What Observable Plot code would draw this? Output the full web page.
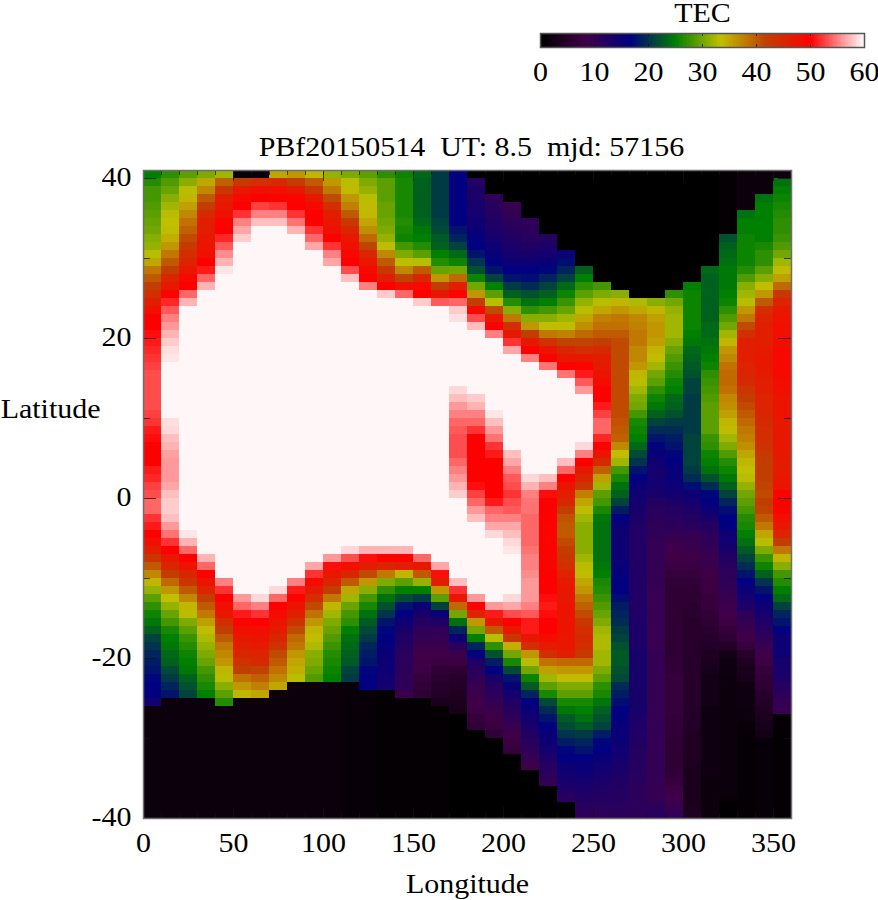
<!DOCTYPE html>
<html><head><meta charset="utf-8">
<script src="https://cdn.jsdelivr.net/npm/d3@7"></script>
<script src="https://cdn.jsdelivr.net/npm/@observablehq/plot@0.6"></script>
<style>
html,body{margin:0;background:#fff;width:878px;height:900px;overflow:hidden}
#map,#bar{position:absolute;left:0;top:0}
svg{background:transparent!important}
</style></head><body><div id="map"></div><div id="bar"></div>
<script>
// TEC, one list per longitude column (10 deg wide), north to south.
// [value, n] means n consecutive rows with that value.
const lon000=[25,26.5,28,28,28.5,29,29.5,30,31,31.5,33,35,38,40,42,44,46,48,50,50,50.5,51,51.5,52,52.5,53,53,53,53,53,52.5,52,51,50.5,50,50,50,51,51.5,52.5,53,54,54,52,51,50,48,46,43,40,37,34,31.5,29,27,25.5,24.5,23,21,20,19,18.5,18,17,16.7,16.7,14,[1.5,14]];
const lon010=[27,28.5,29.5,31,32,33,33.3,33.5,34.5,36,38,40,42,45,47,49.5,51.5,53.5,55,56,57,58,58.7,59,[59.7,7],58.7,58.5,57.5,57,56.3,56,56,56,56.5,57.5,58,58,57.5,56,54.5,52,50,47,45,42,39,36,33.3,31.5,29.5,28,26,25,24.5,23.5,23,21.5,20.5,19,18,[1.5,15]];
const lon020=[29,31,33,34,35.5,37,38.5,39.5,41,42.5,44,45.5,47,49,50,54,57,[59.7,28],59,57,54,50,47.5,45,43,40,37,34,33,30.5,29,27.5,26.5,25.5,25,24.5,23,22,21,[1.5,15]];
const lon030=[30.5,35,37,40,42,44.5,46,46,47,47.5,48,50,51,54,57,[59.7,33],57,54,50,47.5,45.5,42,40,38,35.5,33.5,32.5,31.5,30.5,29.5,28,27,26,25,[1.5,15]];
const lon040=[32,39.5,43,46,47,48,49.5,50,51.5,53.5,55.5,57,59,[59.7,38],55,52,50,48,47,44,42,40,38,37,36,34,33,31,29,26.5,[1.5,14]];
const lon050=[1,42.5,47,49,50,52,55,56.5,58,[59.7,44],56,54,51,49.5,48,47,46,45,43.5,42,38.5,36,34,[1.5,15]];
const lon060=[1,44,48,50,52.5,55,57.5,[59.7,46],58.5,55,52,50,48,47.5,46.5,45.5,44.5,41.5,39.5,37.5,35,[1.5,15]];
const lon070=[35,44.5,48,49.5,52,55,57.5,[59.7,45],58.5,54,50,48.5,47.5,46.5,45,43.5,41,40,38.5,37,35,[1.5,16]];
const lon080=[36,42,47,49.5,50,52,54.5,57,[59.7,43],55,51,49.5,47.5,46,43.5,41,39,38,36,35,34.5,33,[1.5,17]];
const lon090=[34,40,43,47,49,50,50,52,54,56.5,[59.7,39],56.5,52,49,46.5,44,41,38.5,36,34,33.5,32.5,31,30.5,29.5,28.5,[1.5,17]];
const lon100=[31.5,36,38,41,44,46,47,48,50,52,55,56.5,[59.7,36],56,50.5,47,45,42,38,34,32,30.5,29.5,28.5,27.5,26.5,26,25.5,25,[1.5,17]];
const lon110=[30.5,33,33.8,36,37.5,40,42.5,45,47,48,49,50,53,57.5,[59.7,33],58.5,53,48,45,40,35,32,29.5,28,27,25,24,23.5,23,22.5,21,20.5,[1,17]];
const lon120=[29,30.5,31.5,33,33.7,33.8,35,36.5,39,41.5,45,47,49,50,55,[59.7,32],57,50.5,46,41,36,31,28,26,24,22.5,21.5,20.5,19,18.5,18,17,16.7,16.7,[1,16]];
const lon130=[27,29,29,29,29.5,29.5,30,30.5,31.5,33.5,37,40,43,46,50,58,[59.7,31],57,50,45,38,30.5,27,24,22,20,18,17,16.5,16,15.5,15,15,14.5,14,[0.5,16]];
const lon140=[25.5,26,26,26,26,26,26.5,26,25.5,28,30.5,33.5,37,41.5,48,54,[59.7,31],57,50,46,34,29,25,21.5,18,16.7,15,13.5,12.5,12,11.5,11,11,10.5,10.5,9,[0.5,15]];
const lon150=[23.5,23,23,23,23,23,23.5,24.5,25,26.5,29,33,40,45,49,50,58,[59.7,31],54,47,40,31.5,25,20.5,15.5,13.5,12,10.5,10,9,8.5,8,7.5,7,6.5,6,[0.5,15]];
const lon160=[20.5,20.5,20.5,20.5,20.5,20.5,21,21.5,22.5,23,25,26.5,29.5,36,42,47,53.5,[59.7,32],56.5,50.5,46,36,29,21,15,12.5,10.5,10,9,8.5,7.5,6,5.5,5,4.5,3.5,[0.5,14]];
const lon170=[[16.7,7],18,19,21,23.5,25.5,30,39,46,49.5,54,58,58.8,[59.7,8],58.5,57.5,56,55,54,53.5,53,53,53,54,55,56,57,58,[59.7,10],57.5,52,47,39,30,24,19,15,11.5,9,7.5,6,5,4.5,4,3.5,3,[0,13]];
const lon180=[0,12,13,13,13.5,14,15,15.5,16,16.7,18,20,22,25.5,30,36,42,49,53,57.5,[59.7,8],58,57,55,54,52,50,50,50,50,50,50,50.5,52.5,54,56,57.5,[59.7,9],56,50,45.5,36,30,25,19,16,13,11.5,10.5,9.5,9,8.5,8,7,6.5,[0,11]];
const lon190=[[0,3],10.5,11.5,12,12.5,13,14,15,15.5,16.5,18,21,25,29,33,41,47,50,55,[59.7,9],59,57.5,56,54.5,52,51,50,50,50,50,50,51,54,55,56.5,58.5,[59.7,8],56,51,47,40,33,27,22,18.5,16.5,13.5,12,11,10,9,8,7.5,6.5,[0,10]];
const lon200=[[0,4],9.5,10,11,12,12.5,13,14,15,16.7,18,20.5,23,26.5,31,38,44,47,52,56.5,[59.7,12],57.5,56.5,55,53.5,53,52,53,53.5,55,56.5,57.5,58.5,59,[59.7,5],58.5,56.5,53,50,47,43,34.5,30,26,21.5,18,15.5,14,12.5,11.5,10.5,9.5,8.5,7.5,7,[0,8]];
const lon210=[[0,6],10.5,11,11.5,12.5,13.5,15,16.7,17.5,19.5,22,24,27,31,36,42,47,50,55,[59.7,14],58.5,57,55,54.5,54.5,54,54,54,54,54.5,55,55,55.5,56,56,56,55,53.5,51,51,47,44,36,33,30,25.5,22.5,19,16.5,15.5,14.5,13.5,12.5,11.5,10.5,9.5,8.5,[0,6]];
const lon220=[[0,8],12,13,14,15.5,17,19,21,23,25,28,31,33.5,38,43.5,47.5,50,54.5,[59.7,13],57.5,55,50.5,50,50,50,49.5,49.5,49.5,49.5,49.5,49.5,50,50,50,50.5,51,50.5,50,50,48.5,46.5,44,38.5,35.5,32,29,26,21.5,19.5,18,16.7,15.5,15,14,13,12,11,10,[0,4]];
const lon230=[[0,10],15,17.5,19,21,23.5,25.5,27.5,29.5,32,33.5,37.5,41.5,45,47,50,54.5,[59.7,10],57.5,54,50,47.5,46,45,42,40.5,40,40,41,42,43,44,45.5,46.5,47,47,47.5,47.5,47.5,47.5,47,47,46,39,36,33.5,30.5,29,26,24.5,22.5,21.5,20,18.5,17,16.7,15,14.5,13.5,12.5,11.5,[0,2]];
const lon240=[[0,12],23,25,27,29,31.5,33,35,36.5,39,41.5,44,47,49.5,51,53.5,56,[59.7,6],58.5,55,50,47,45,43,37.5,35,33.5,32,31,31,31,31,32,33,33.5,35,36,38,39.5,41,43,44,44.5,44,42.5,39,36,33.5,30.5,29,26,25,24,22.5,20.5,19,18,16.7,15.5,15,14,13,12.5,11.5,11];
const lon250=[[0,14],28,30.5,33,35,37.5,38.5,40,42,44.5,46,46.5,47.5,48.5,50,50,51,52.5,54,54,51.5,50,47.5,44.5,39.5,35.5,32,29,28,26,24.5,24,24,24,24,24,24.5,25,26,26.5,27.5,28.5,29.5,30.5,32,32.5,32.5,32,32,30.5,29,27,26,24.5,23,22,21,18.5,17,16.7,15.5,14.5,14,13,12.5,12,11.5,11];
const lon260=[[0,15],31,34,36,38,38.5,40,[41,10],40.5,40,39.5,37,33.5,32,28,26,24,23,21,18.5,16.7,15.5,15,15,15,15,15.5,16,16.5,16.7,17.5,18.5,19,19.5,20.5,21,22,22.5,22.5,22,21.5,19.5,18.5,17.5,16.7,16.7,15.5,15.5,15,14.5,14,13.5,13,12.5,12,12,11.5,11];
const lon270=[[0,16],32.5,35,37,37.5,38,38,37,37,36,34,33,32,30.5,30,28,26,25.5,25,23.5,21.5,20,18,16.7,15.5,14.5,14,13.5,13,[12.5,12],13,13,13,13,[13.5,8],13,13,12.5,12.5,12,12,12,11.5,11.5,11,11,11,11];
const lon280=[[0,16],31,34,35.5,36,36,35.5,34,33.5,32,30,29,27,25.5,24.5,23,21,19.5,18,17,15.5,14.5,14,14,14,13.5,12,11.5,11,[10.5,2],[10,6],[9.5,8],[10,19],11,11.5];
const lon290=[[0,15],27,30,31.5,32,32,32,31,29.5,28.5,27.5,26.5,25.5,25,23.5,23,22,20.5,19.5,18.5,18,17,16.7,15.5,15.5,15,14.5,13,12,11.5,11,10,9,8.5,8,7.5,7,6.5,[6,9],6.5,6.5,[7,5],6.5,6.5,6.5,[6,4],6.5,7,8,8.5,9.5,10];
const lon300=[[0,14],25,25.5,25.5,25.5,25.5,25.5,25,24.5,23.5,23,22.5,22,21,21,20.5,20.5,20.5,20.5,20.5,21,21,21,21,20.5,19.5,17.5,15,14,13,12,11.5,10,9.5,9,8,7.5,7,6.5,6,6,5.5,5.5,[5,11],4.5,4.5,4.5,[4,4],[3.5,6],4];
const lon310=[[0,12],23.5,[23,6],23.5,23.5,24,24.5,25,25.5,27,27.5,28,28.5,29,29,29,29,27.5,27,25.5,25,24,22,19.5,17,16.5,15,13.5,12,11,10.5,10,9.5,9,8,7.5,7.5,7,7,6.5,6,5.5,5,4.5,4,3.5,3,[2.5,4],[2,9],[1.5,5]];
const lon320=[[0.5,8],22,23,23.5,24,24.5,24.5,24.5,25,25.5,27,28.5,30,32,34,36,37,38.5,39,39,38.5,37,36.5,35.5,34,33.5,32,30.5,28.5,26.5,25.5,24.5,23,21,19,17.5,16.7,16.7,15,14.5,13.5,12.5,11.5,11,10.5,10,9.5,9,8.5,8,7,6,4.5,2.5,2,2,[1.5,15],1,[0,2]];
const lon330=[[1.5,5],24,25,25,25.5,25.5,25.5,25.5,26.5,28.5,31,32,33,36,38,41,44,46,46,46,45.5,45,44.5,43,42,41,40,39,38,37.5,36.5,35,34,33.3,33,31.5,30,29,28,26.5,26,25,24,22.5,21,19.5,18,16.7,15,14,13,11,10,9,8.5,7,5,4,3.5,3,2,2,2,1.5,1.5,1,[0.5,11]];
const lon340=[[1.5,3],24,[25,5],26,27,27,29,31,33.5,36,40,44,45.5,46,46,46,46.5,47,47,46.5,46,46,45.5,45.5,45,44.5,44,44,43.5,42.5,42,42,42,41.5,41,42,41.5,40,38,35,33,30.5,27.5,25.5,23,20,18,16.7,15,14,13,11.5,10.5,9.5,8.5,8,7,6.5,6,5,4.5,4,3.5,3,2.5,[1,10]];
const lon350=[2,24,25,25.5,26,26.5,27,27,27.5,28.5,30,32,33.5,35.5,39,43,45.5,47,47.5,48,48,48.5,49,49,49,49,48.5,48,47.5,47.5,47.5,47,47,47,47,47,46.5,46.5,47,47.5,49.5,50,49.5,48,47,45.5,42,38,34,31,28,26.5,25,23.5,21,19,18,16.7,15,15,15,14,13.5,13,12,11,10,9.5,[0.5,13]];

const columns=[lon000,lon010,lon020,lon030,lon040,lon050,lon060,lon070,lon080,lon090,lon100,lon110,lon120,lon130,lon140,lon150,lon160,lon170,lon180,lon190,lon200,lon210,lon220,lon230,lon240,lon250,lon260,lon270,lon280,lon290,lon300,lon310,lon320,lon330,lon340,lon350];

const longitudeTicks=[0,50,100,150,200,250,300,350];
const latitudeTicks=[-40,-20,0,20,40];
const longitudeMinor=d3.range(0,360,10);
const latitudeMinor=[-30,-10,10,30];
const barTicks=[0,10,20,30,40,50,60];
const paletteStops=[0,8.33,16.67,25,33.33,41.67,50,60];
const paletteColors=["#000000","#400048","#000080","#008000","#c0c000","#c04000","#ff0000","#ffffff"];
const titleText="PBf20150514  UT: 8.5  mjd: 57156";

// expand the runs into one cell per row
const cells=[];
columns.forEach((col,c)=>{
  let r=0;
  for(const e of col){
    const [v,n]=Array.isArray(e)?e:[e,1];
    for(let k=0;k<n;k++,r++) cells.push({lon:c*10,top:41-r,tec:v});
  }
  if(r!==81) console.error("column "+c*10+" has "+r+" rows");
});

const FONT="Liberation Serif";
const FS=27;
const colorScale={type:"linear",domain:paletteStops,range:paletteColors,clamp:true};
const tickStroke={stroke:"#111",strokeOpacity:0.75,strokeWidth:1};

const W=648,H=648;
const map=Plot.plot({
  width:878,height:900,
  marginLeft:143,marginRight:87,marginTop:170,marginBottom:82,
  style:{fontFamily:FONT,background:"transparent"},
  x:{domain:[0,360],axis:null},
  y:{domain:[-40,41],axis:null},
  color:colorScale,
  marks:[
    Plot.rect(cells,{x1:"lon",x2:d=>d.lon+10,y1:"top",y2:d=>d.top-1,fill:"tec",shapeRendering:"crispEdges"}),
    // inward ticks on all four sides
    Plot.ruleX(longitudeMinor,{...tickStroke,insetBottom:H-5}),
    Plot.ruleX(longitudeMinor,{...tickStroke,insetTop:H-5}),
    Plot.ruleX(longitudeTicks,{...tickStroke,insetBottom:H-11}),
    Plot.ruleX(longitudeTicks,{...tickStroke,insetTop:H-11}),
    Plot.ruleY(latitudeMinor,{...tickStroke,insetRight:W-7}),
    Plot.ruleY(latitudeMinor,{...tickStroke,insetLeft:W-7}),
    Plot.ruleY(latitudeTicks,{...tickStroke,insetRight:W-13}),
    Plot.ruleY(latitudeTicks,{...tickStroke,insetLeft:W-13}),
    Plot.frame({stroke:"#6e6e6e",strokeWidth:1.5}),
    Plot.axisX(longitudeTicks,{anchor:"bottom",tickSize:0,tickPadding:14,fontSize:FS,label:null,tickFormat:String,fill:"#000"}),
    Plot.axisY(latitudeTicks,{anchor:"left",tickSize:0,tickPadding:12,fontSize:FS,label:null,tickFormat:String,fill:"#000",dy:-1.5}),
    Plot.text([titleText],{frameAnchor:"top",dx:4,dy:-34,lineAnchor:"top",fontSize:FS,fill:"#000"}),
    Plot.text(["Longitude"],{frameAnchor:"bottom",dy:55,lineAnchor:"top",fontSize:FS,fill:"#000"}),
    Plot.text(["Latitude"],{frameAnchor:"left",y:[11],dx:-43,dy:-1,textAnchor:"end",fontSize:FS,fill:"#000"})
  ]
});
document.getElementById("map").append(map);

const barValues=d3.range(0,60,0.25);
const bar=Plot.plot({
  width:878,height:100,
  marginLeft:540,marginRight:14,marginTop:33,marginBottom:53,
  style:{fontFamily:FONT,background:"transparent"},
  x:{domain:[0,60],axis:null},
  y:{axis:null},
  color:colorScale,
  marks:[
    Plot.rectX(barValues,{x1:d=>d,x2:d=>d+0.25,fill:d=>d,shapeRendering:"crispEdges"}),
    Plot.ruleX(barTicks,{...tickStroke,insetBottom:11}),
    Plot.ruleX(barTicks,{...tickStroke,insetTop:11}),
    Plot.frame({stroke:"#555",strokeWidth:1.5}),
    Plot.axisX(barTicks,{anchor:"bottom",tickSize:0,tickPadding:14,fontSize:FS,label:null,tickFormat:String,fill:"#000"}),
    Plot.text(["TEC"],{frameAnchor:"top",dy:-31,lineAnchor:"top",fontSize:FS,fill:"#000"})
  ]
});
document.getElementById("bar").append(bar);

// the reference's lettering is about 11% wider than tall
document.querySelectorAll("svg text").forEach(t=>{
  const L=t.getComputedTextLength();
  t.setAttribute("textLength",L*1.11);
  t.setAttribute("lengthAdjust","spacingAndGlyphs");
});
</script></body></html>
